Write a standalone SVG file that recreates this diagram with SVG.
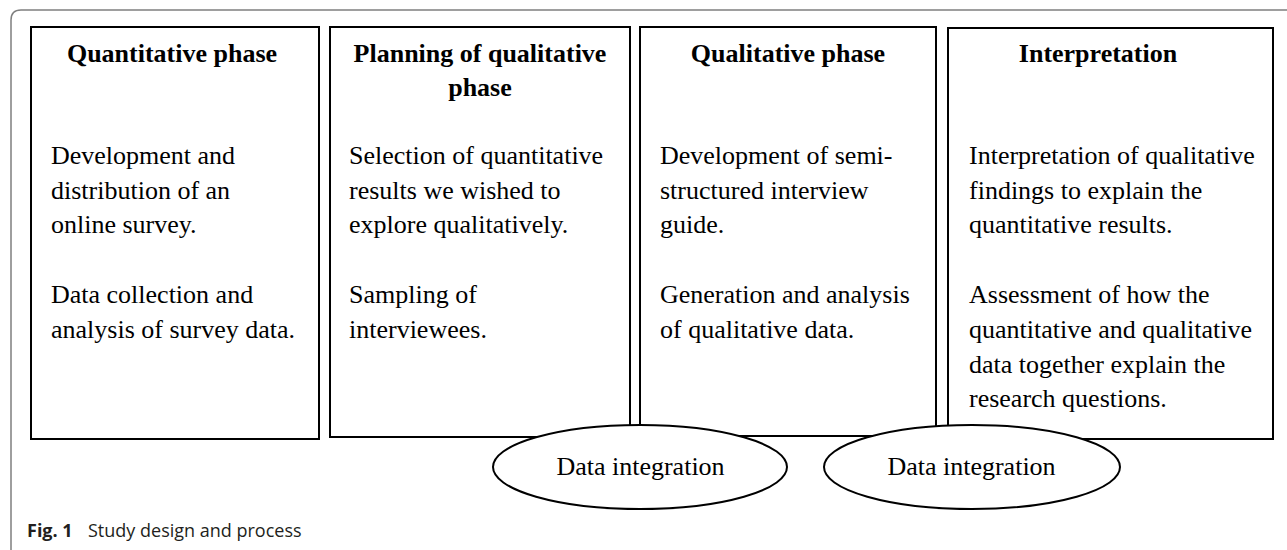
<svg xmlns="http://www.w3.org/2000/svg" width="1287" height="550" viewBox="0 0 1287 550">
  <style>
    .box { fill: #ffffff; stroke: #000000; stroke-width: 2; }
    .oval { fill: #ffffff; stroke: #000000; stroke-width: 2; }
    .head { font-family: "Liberation Serif", "Times New Roman", serif; font-size: 26px; font-weight: bold; fill: #000000; text-anchor: middle; }
    .body { font-family: "Liberation Serif", "Times New Roman", serif; font-size: 26px; fill: #000000; }
    .label { font-family: "Liberation Serif", "Times New Roman", serif; font-size: 26px; fill: #000000; text-anchor: middle; }
    .cap { font-family: "Open Sans", "DejaVu Sans", sans-serif; font-size: 18px; fill: #231f20; }
  </style>
  <rect width="1287" height="550" fill="#ffffff"/>

  <!-- figure frame, open at the bottom and right -->
  <path d="M11,550 L11,20 Q11,10 21,10 L1287,10" fill="none" stroke="#7f7f7f" stroke-width="1.5"/>

  <g id="quantitative-phase">
    <rect class="box" x="31" y="27" width="288" height="412"/>
    <text class="head" x="172" y="62">Quantitative phase</text>
    <text class="body" x="51" y="164">Development and</text>
    <text class="body" x="51" y="199">distribution of an</text>
    <text class="body" x="51" y="233">online survey.</text>
    <text class="body" x="51" y="303">Data collection and</text>
    <text class="body" x="51" y="338">analysis of survey data.</text>
  </g>

  <g id="planning-phase">
    <rect class="box" x="330" y="27" width="300" height="410"/>
    <text class="head" x="480" y="62">Planning of qualitative</text>
    <text class="head" x="480" y="96">phase</text>
    <text class="body" x="349" y="164">Selection of quantitative</text>
    <text class="body" x="349" y="199">results we wished to</text>
    <text class="body" x="349" y="233">explore qualitatively.</text>
    <text class="body" x="349" y="303">Sampling of</text>
    <text class="body" x="349" y="338">interviewees.</text>
  </g>

  <g id="qualitative-phase">
    <rect class="box" x="640" y="27" width="296" height="409"/>
    <text class="head" x="788" y="62">Qualitative phase</text>
    <text class="body" x="660" y="164">Development of semi-</text>
    <text class="body" x="660" y="199">structured interview</text>
    <text class="body" x="660" y="233">guide.</text>
    <text class="body" x="660" y="303">Generation and analysis</text>
    <text class="body" x="660" y="338">of qualitative data.</text>
  </g>

  <g id="interpretation">
    <rect class="box" x="948" y="28" width="325" height="411"/>
    <text class="head" x="1098" y="62">Interpretation</text>
    <text class="body" x="969" y="164">Interpretation of qualitative</text>
    <text class="body" x="969" y="199">findings to explain the</text>
    <text class="body" x="969" y="233">quantitative results.</text>
    <text class="body" x="969" y="303">Assessment of how the</text>
    <text class="body" x="969" y="338">quantitative and qualitative</text>
    <text class="body" x="969" y="373">data together explain the</text>
    <text class="body" x="969" y="407">research questions.</text>
  </g>

  <g id="connectors">
    <g id="integration-1">
      <ellipse class="oval" cx="640" cy="467" rx="147" ry="42"/>
      <text class="label" x="640.5" y="475">Data integration</text>
    </g>
    <g id="integration-2">
      <ellipse class="oval" cx="972" cy="467" rx="148" ry="42"/>
      <text class="label" x="971.5" y="475">Data integration</text>
    </g>
  </g>

  <g id="caption">
    <text class="cap" x="27" y="537"><tspan font-weight="bold">Fig. 1</tspan><tspan x="88">Study design and process</tspan></text>
  </g>
</svg>
